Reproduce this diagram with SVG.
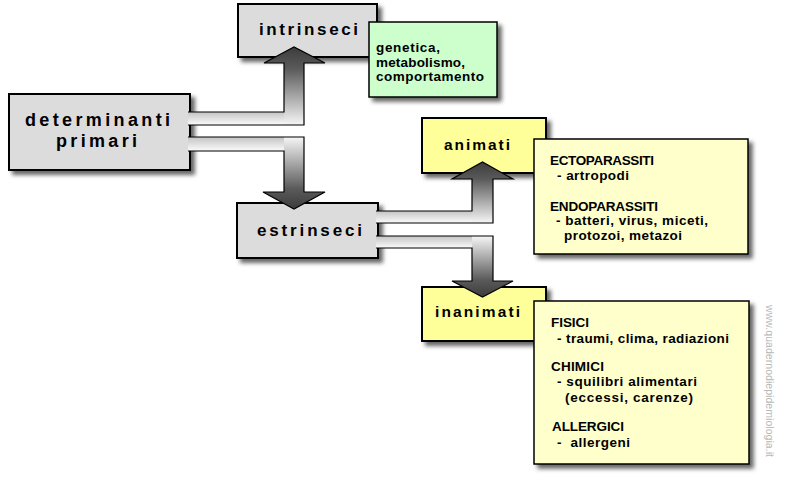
<svg xmlns="http://www.w3.org/2000/svg" width="787" height="485" viewBox="0 0 787 485">
<style>
.box{stroke:#000;stroke-width:2}
.gray{fill:#dcdcdc}
.yel{fill:#ffff99}
.pale{fill:#ffffcc;stroke:#000;stroke-width:1.5}
.green{fill:#ccffcc;stroke:#000;stroke-width:1.5}
.big{font-family:"Liberation Sans",Arial,sans-serif;font-weight:bold;fill:#000}
.sm{font-family:"Liberation Sans",Arial,sans-serif;font-weight:bold;font-size:13.5px;fill:#000}
.outline{fill:none;stroke:#000;stroke-width:1.2;stroke-linejoin:miter}
.wm{font-family:"Liberation Sans",Arial,sans-serif;font-size:10.5px;fill:#b8b8b8}
</style>
<defs>
<filter id="sh" x="-10%" y="-10%" width="130%" height="140%">
<feDropShadow dx="4" dy="4" stdDeviation="2" flood-color="#000" flood-opacity="0.6"/>
</filter>
<linearGradient id="band" x1="0" y1="0" x2="0" y2="1">
<stop offset="0" stop-color="#c4c4c4"/>
<stop offset="1" stop-color="#fbfbfb"/>
</linearGradient>
<linearGradient id="gUp" x1="0" y1="1" x2="0" y2="0">
<stop offset="0" stop-color="#f6f6f6"/>
<stop offset="0.72" stop-color="#5a5a5a"/>
<stop offset="1" stop-color="#3c3c3c"/>
</linearGradient>
<linearGradient id="gDown" x1="0" y1="0" x2="0" y2="1">
<stop offset="0" stop-color="#f6f6f6"/>
<stop offset="0.72" stop-color="#5a5a5a"/>
<stop offset="1" stop-color="#3c3c3c"/>
</linearGradient>
</defs>
<rect width="787" height="485" fill="#fff"/>

<g id="determinanti">
<rect class="box gray" x="9" y="94" width="181" height="76" filter="url(#sh)"/>
<text class="big" font-size="18" x="25" y="126" textLength="145" lengthAdjust="spacing">determinanti</text>
<text class="big" font-size="18" x="56" y="147" textLength="81" lengthAdjust="spacing">primari</text>
</g>

<g id="intrinseci">
<rect class="box gray" x="238" y="4" width="139" height="53" filter="url(#sh)"/>
<text class="big" font-size="17" x="259" y="35" textLength="99" lengthAdjust="spacing">intrinseci</text>
</g>

<g id="intrinseci-note">
<rect class="green" x="369" y="22" width="128" height="75" filter="url(#sh)"/>
<text class="sm" x="376" y="52" textLength="64" lengthAdjust="spacing">genetica,</text>
<text class="sm" x="376" y="67" textLength="89" lengthAdjust="spacing">metabolismo,</text>
<text class="sm" x="376" y="81" textLength="108" lengthAdjust="spacing">comportamento</text>
</g>

<g id="estrinseci">
<rect class="box gray" x="237" y="203" width="141" height="55" filter="url(#sh)"/>
<text class="big" font-size="17" x="257" y="236" textLength="105" lengthAdjust="spacing">estrinseci</text>
</g>

<g id="animati">
<rect class="box yel" x="422" y="118" width="124" height="55" filter="url(#sh)"/>
<text class="big" font-size="15.5" x="444" y="150" textLength="66" lengthAdjust="spacing">animati</text>
</g>

<g id="inanimati">
<rect class="box yel" x="422" y="287" width="124" height="54" filter="url(#sh)"/>
<text class="big" font-size="15.5" x="435" y="317" textLength="85" lengthAdjust="spacing">inanimati</text>
</g>

<g id="animati-note">
<rect class="pale" x="534" y="139" width="214" height="115" filter="url(#sh)"/>
<text class="sm" x="550" y="165" textLength="104" lengthAdjust="spacing">ECTOPARASSITI</text>
<text class="sm" x="557" y="180" textLength="72" lengthAdjust="spacing">- artropodi</text>
<text class="sm" x="550" y="211" textLength="108" lengthAdjust="spacing">ENDOPARASSITI</text>
<text class="sm" x="556" y="225" textLength="152" lengthAdjust="spacing">- batteri, virus, miceti,</text>
<text class="sm" x="564" y="240" textLength="118" lengthAdjust="spacing">protozoi, metazoi</text>
</g>

<g id="inanimati-note">
<rect class="pale" x="534" y="301" width="215" height="163" filter="url(#sh)"/>
<text class="sm" x="551" y="327" textLength="38" lengthAdjust="spacing">FISICI</text>
<text class="sm" x="557" y="343" textLength="172" lengthAdjust="spacing">- traumi, clima, radiazioni</text>
<text class="sm" x="551" y="371" textLength="53" lengthAdjust="spacing">CHIMICI</text>
<text class="sm" x="557" y="386" textLength="140" lengthAdjust="spacing">- squilibri alimentari</text>
<text class="sm" x="565" y="402" textLength="128" lengthAdjust="spacing">(eccessi, carenze)</text>
<text class="sm" x="552" y="431" textLength="72" lengthAdjust="spacing">ALLERGICI</text>
<text class="sm" x="557" y="447" textLength="73" lengthAdjust="spacing" xml:space="preserve">-  allergeni</text>
</g>

<g id="connectors">
<g id="to-intrinseci">
<rect x="188" y="112" width="96" height="13" fill="url(#band)"/>
<path d="M284,125 V63 H264 L294,47 L325,63 H304 V125 Z" fill="url(#gUp)"/>
<path class="outline" d="M188,112 H284 V63 H264 L294,47 L325,63 H304 V125 H188"/>
</g>
<g id="to-estrinseci">
<rect x="188" y="137" width="96" height="14" fill="url(#band)"/>
<path d="M284,137 H304 V192 H325 L294,209 L263,192 H284 Z" fill="url(#gDown)"/>
<path class="outline" d="M188,137 H304 V192 H325 L294,209 L263,192 H284 V151 H188"/>
</g>
<g id="to-animati">
<rect x="376" y="211" width="96" height="12" fill="url(#band)"/>
<path d="M472,223 V179 H452 L482.5,162 L513,179 H493 V223 Z" fill="url(#gUp)"/>
<path class="outline" d="M376,211 H472 V179 H452 L482.5,162 L513,179 H493 V223 H376"/>
</g>
<g id="to-inanimati">
<rect x="376" y="236" width="96" height="12" fill="url(#band)"/>
<path d="M472,236 H493 V281 H513 L482.5,297 L452,281 H472 Z" fill="url(#gDown)"/>
<path class="outline" d="M376,236 H493 V281 H513 L482.5,297 L452,281 H472 V248 H376"/>
</g>
</g>

<text class="wm" transform="translate(766,305) rotate(90)" x="0" y="0" textLength="152" lengthAdjust="spacing">www.quadernodiepidemiologia.it</text>
</svg>
